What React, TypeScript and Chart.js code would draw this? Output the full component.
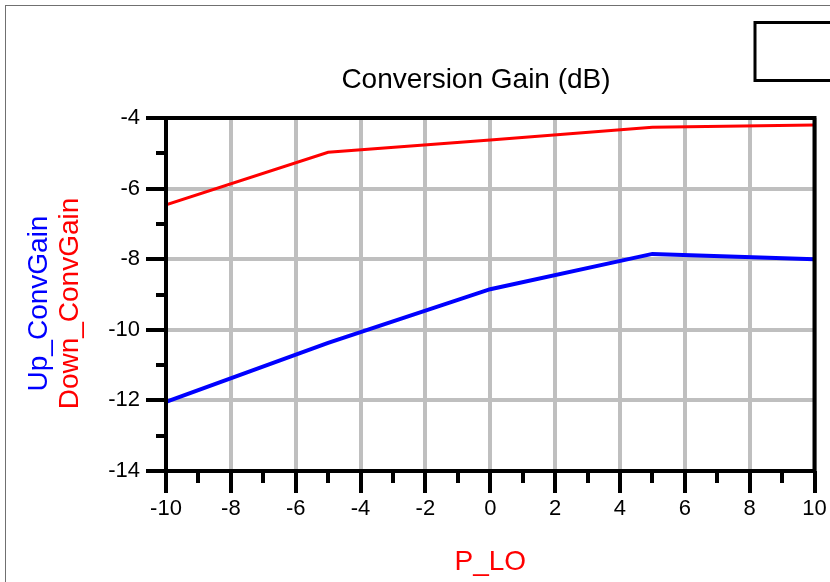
import React, { useEffect, useRef } from 'react';
import { Chart, registerables } from 'chart.js';

Chart.register(...registerables);

// ---- data ----
const pLo = [-10, -5, 0, 5, 10];
const upConvGain = [-12.04, -10.37, -8.85, -7.85, -8.0];
const downConvGain = [-6.46, -4.97, -4.62, -4.26, -4.2];

const xTicks = { min: -10, max: 10, step: 2 };
const yTicks = { min: -14, max: -4, step: 2 };

const chartTitle = 'Conversion Gain (dB)';
const xTitle = 'P_LO';
const yTitleUp = 'Up_ConvGain';
const yTitleDown = 'Down_ConvGain';

const FONT = '"Liberation Sans", Arial, Helvetica, sans-serif';

const decorPlugin = {
  id: 'decor',
  beforeDraw(chart: any) {
    const ctx = chart.ctx;
    const { chartArea } = chart;
    ctx.save();
    ctx.fillStyle = '#ffffff';
    ctx.fillRect(0, 0, chart.width, chart.height);
    // outer window frame
    ctx.fillStyle = '#707070';
    ctx.fillRect(5, 5, 1, chart.height - 5);
    ctx.fillRect(5, 5, chart.width - 5, 1);
    // empty legend box at top right
    ctx.strokeStyle = '#000000';
    ctx.lineWidth = 3;
    ctx.strokeRect(755, 22.5, 120, 58);
    // title
    ctx.fillStyle = '#000000';
    ctx.font = '28px ' + FONT;
    ctx.textAlign = 'center';
    ctx.textBaseline = 'alphabetic';
    ctx.fillText(chartTitle, 476, 88);
    // rotated y titles
    const cy = (chartArea.top + chartArea.bottom) / 2 + 9;
    ctx.save();
    ctx.translate(47.3, cy);
    ctx.rotate(-Math.PI / 2);
    ctx.fillStyle = '#0000ff';
    ctx.fillText(yTitleUp, 0, 0);
    ctx.restore();
    ctx.save();
    ctx.translate(77.7, cy);
    ctx.rotate(-Math.PI / 2);
    ctx.fillStyle = '#ff0000';
    ctx.fillText(yTitleDown, 0, 0);
    ctx.restore();
    ctx.restore();
  },
  afterDatasetsDraw(chart: any) {
    const { ctx, chartArea } = chart;
    const xs = chart.scales.x;
    const ys = chart.scales.y;
    ctx.save();
    ctx.strokeStyle = '#000000';
    ctx.lineWidth = 4;
    ctx.strokeRect(
      chartArea.left,
      chartArea.top,
      chartArea.right - chartArea.left,
      chartArea.bottom - chartArea.top
    );
    ctx.beginPath();
    for (let v = xTicks.min + xTicks.step / 2; v < xTicks.max; v += xTicks.step) {
      const px = Math.round(xs.getPixelForValue(v));
      ctx.moveTo(px, chartArea.bottom);
      ctx.lineTo(px, chartArea.bottom + 12);
    }
    for (let v = yTicks.min + yTicks.step / 2; v < yTicks.max; v += yTicks.step) {
      const py = Math.round(ys.getPixelForValue(v));
      ctx.moveTo(chartArea.left, py);
      ctx.lineTo(chartArea.left - 10, py);
    }
    ctx.stroke();
    ctx.restore();
  },
};

export default function App() {
  const canvasRef = useRef<HTMLCanvasElement | null>(null);

  useEffect(() => {
    document.body.style.margin = '0';
    const canvas = canvasRef.current;
    if (!canvas) return;
    const chart = new Chart(canvas, {
      type: 'line',
      data: {
        datasets: [
          {
            label: yTitleDown,
            data: pLo.map((x, i) => ({ x, y: downConvGain[i] })),
            borderColor: '#ff0000',
            borderWidth: 3,
            pointRadius: 0,
            tension: 0,
            fill: false,
          },
          {
            label: yTitleUp,
            data: pLo.map((x, i) => ({ x, y: upConvGain[i] })),
            borderColor: '#0000ff',
            borderWidth: 4,
            pointRadius: 0,
            tension: 0,
            fill: false,
          },
        ],
      },
      options: {
        responsive: false,
        animation: false,
        events: [],
        layout: { padding: { top: 118, right: 15.5, left: 0, bottom: 0 } },
        plugins: {
          legend: { display: false },
          tooltip: { enabled: false },
          title: { display: false },
        },
        scales: {
          x: {
            type: 'linear',
            position: 'bottom',
            min: xTicks.min,
            max: xTicks.max,
            afterFit: (s: any) => {
              s.height = 111;
            },
            ticks: {
              stepSize: xTicks.step,
              color: '#000000',
              font: { family: FONT, size: 22 },
              padding: 3,
              maxRotation: 0,
              autoSkip: false,
            },
            grid: {
              color: '#bfbfbf',
              lineWidth: 4,
              drawTicks: true,
              tickLength: 22,
              tickColor: '#000000',
              tickWidth: 4,
            },
            border: { display: false },
            title: {
              display: true,
              text: xTitle,
              color: '#ff0000',
              font: { family: FONT, size: 28 },
              padding: { top: 0, bottom: 3 },
            },
          },
          y: {
            type: 'linear',
            position: 'left',
            min: yTicks.min,
            max: yTicks.max,
            afterFit: (s: any) => {
              s.width = 166;
            },
            ticks: {
              stepSize: yTicks.step,
              color: '#000000',
              font: { family: FONT, size: 22 },
              padding: 6,
            },
            grid: {
              color: '#bfbfbf',
              lineWidth: 4,
              drawTicks: true,
              tickLength: 20,
              tickColor: '#000000',
              tickWidth: 4,
            },
            border: { display: false },
          },
        },
      } as any,
      plugins: [decorPlugin],
    });
    return () => chart.destroy();
  }, []);

  return (
    <div style={{ position: 'absolute', left: 0, top: 0, width: 830, height: 582 }}>
      <canvas ref={canvasRef} width={830} height={582} />
    </div>
  );
}
